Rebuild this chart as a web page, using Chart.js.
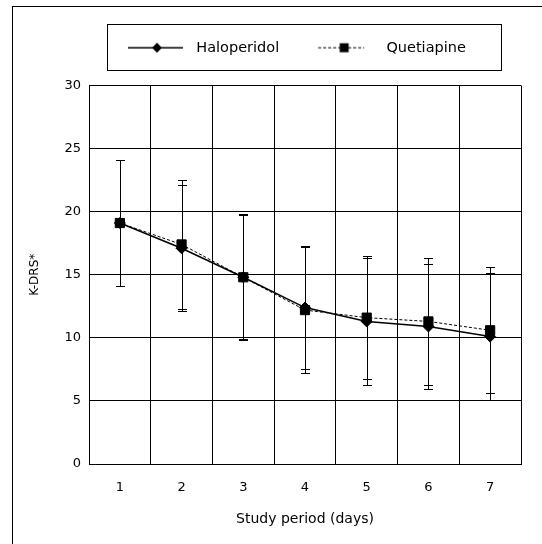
<!DOCTYPE html>
<html>
<head>
<meta charset="utf-8">
<script src="https://cdn.jsdelivr.net/npm/chart.js@4"></script>
<style>
  html, body { margin: 0; padding: 0; background: #fff; }
  #wrap { width: 542px; height: 544px; position: relative; }
</style>
</head>
<body>
<div id="wrap"><canvas id="kdrsChart"></canvas></div>
<script>
// K-DRS mean (± SD) over the study period
const days = ['1', '2', '3', '4', '5', '6', '7'];
const haloMean = [19.1, 17.1, 14.8, 12.4, 11.3, 10.9, 10.1];
const haloSD = [5.0, 5.0, 4.9, 4.9, 5.0, 4.95, 5.0];
const quetMean = [19.1, 17.4, 14.8, 12.2, 11.6, 11.3, 10.6];
const quetSD = [5.0, 5.1, 5.0, 5.0, 4.9, 5.0, 5.0];
const yTicks = [0, 5, 10, 15, 20, 25, 30];

const FONT = 'DejaVu Sans';
const INK = '#000';

// small line+marker picture used as the legend symbol
function legendSample(dashed, marker) {
    const c = document.createElement('canvas');
    c.width = 63;
    c.height = 14;
    const g = c.getContext('2d');
    const lineEnd = dashed ? 48 : 57;
    const mx = dashed ? 28 : 31;
    g.strokeStyle = INK;
    g.fillStyle = INK;
    g.lineWidth = dashed ? 1 : 1.5;
    if (dashed) g.setLineDash([3, 2]);
    g.beginPath();
    g.moveTo(2, 7);
    g.lineTo(lineEnd, 7);
    g.stroke();
    g.setLineDash([]);
    g.beginPath();
    if (marker === 'diamond') {
        g.moveTo(mx, 2); g.lineTo(mx + 5, 7); g.lineTo(mx, 12); g.lineTo(mx - 5, 7);
        g.closePath();
    } else {
        g.rect(mx - 4.5, 2.5, 9, 9);
    }
    g.fill();
    return c;
}
const samples = [legendSample(false, 'diamond'), legendSample(true, 'square')];

const errorSets = [haloSD, quetSD];

// error bars drawn from the y scale
const errorBars = {
    id: 'errorBars',
    beforeDatasetsDraw(chart) {
        const { ctx, scales: { y } } = chart;
        ctx.save();
        ctx.strokeStyle = INK;
        ctx.lineWidth = 1;
        chart.data.datasets.forEach((ds, di) => {
            const meta = chart.getDatasetMeta(di);
            const sd = errorSets[di];
            meta.data.forEach((pt, i) => {
                const x = Math.round(pt.x) + 0.5;
                const top = Math.round(y.getPixelForValue(ds.data[i] + sd[i])) + 0.5;
                const bot = Math.round(y.getPixelForValue(ds.data[i] - sd[i])) + 0.5;
                ctx.beginPath();
                ctx.moveTo(x, top); ctx.lineTo(x, bot);
                ctx.moveTo(x - 4.5, top); ctx.lineTo(x + 4.5, top);
                ctx.moveTo(x - 4.5, bot); ctx.lineTo(x + 4.5, bot);
                ctx.stroke();
            });
        });
        ctx.restore();
    }
};

// extra room under the legend, frame round legend and figure
const frames = {
    id: 'frames',
    beforeLayout(chart) {
        const lg = chart.legend;
        if (lg && !lg._padded) {
            const fit = lg.fit;
            lg.fit = function () {
                fit.call(this);
                this.height += 20.5;
            };
            lg._padded = true;
        }
    },
    afterDraw(chart) {
        const { ctx } = chart;
        const hb = chart.legend.legendHitBoxes;
        ctx.save();
        ctx.strokeStyle = INK;
        ctx.lineWidth = 1;
        ctx.strokeRect(12.5, 6.5, 560, 560);
        if (hb && hb.length) {
            const left = Math.round(hb[0].left - 19) + 0.5;
            const top = Math.round(hb[0].top - 16.5) + 0.5;
            ctx.strokeRect(left, top, 394, 46);
        }
        ctx.restore();
    }
};

new Chart(document.getElementById('kdrsChart'), {
    type: 'line',
    data: {
        labels: days,
        datasets: [
            {
                label: 'Haloperidol',
                data: haloMean,
                borderColor: INK,
                borderWidth: 1.5,
                backgroundColor: INK,
                pointStyle: 'rectRot',
                pointRadius: 5.5,
                pointBorderWidth: 1,
                pointBackgroundColor: INK,
                pointBorderColor: INK,
                tension: 0,
                order: 1
            },
            {
                label: 'Quetiapine',
                data: quetMean,
                borderColor: INK,
                borderWidth: 1,
                borderDash: [3, 2],
                backgroundColor: INK,
                pointStyle: 'rect',
                pointRadius: 6.5,
                pointBorderWidth: 1,
                pointBackgroundColor: INK,
                pointBorderColor: INK,
                tension: 0,
                order: 0
            }
        ]
    },
    options: {
        responsive: true,
        maintainAspectRatio: false,
        animation: false,
        layout: { padding: { left: 24, right: 21, top: 3.5, bottom: 10 } },
        plugins: {
            tooltip: { enabled: false },
            legend: {
                position: 'top',
                align: 'start',
                fullSize: false,
                labels: {
                    usePointStyle: true,
                    pointStyleWidth: 63,
                    padding: 37,
                    color: INK,
                    font: { family: FONT, size: 14.5 },
                    generateLabels: chart => chart.data.datasets.map((ds, i) => ({
                        text: ds.label,
                        pointStyle: samples[i],
                        fillStyle: 'transparent',
                        strokeStyle: 'transparent',
                        lineWidth: 0,
                        fontColor: INK,
                        hidden: false,
                        datasetIndex: i
                    }))
                }
            }
        },
        scales: {
            x: {
                offset: true,
                afterFit(scale) { scale.height = 70; },
                grid: { offset: true, color: INK, lineWidth: 1, drawTicks: false },
                border: { color: INK, width: 1 },
                ticks: { color: INK, padding: 16, font: { family: FONT, size: 13 } },
                title: {
                    display: true,
                    text: 'Study period (days)',
                    color: INK,
                    font: { family: FONT, size: 14 },
                    padding: { top: 0, bottom: 6 }
                }
            },
            y: {
                min: yTicks[0],
                max: yTicks[yTicks.length - 1],
                afterFit(scale) { scale.width = 65; },
                grid: { color: INK, lineWidth: 1, drawTicks: false },
                border: { color: INK, width: 1 },
                ticks: { stepSize: yTicks[1] - yTicks[0], color: INK, padding: 8, font: { family: FONT, size: 13 } },
                title: {
                    display: true,
                    text: 'K-DRS*',
                    color: INK,
                    font: { family: FONT, size: 12 },
                    padding: { top: 4, bottom: 0 }
                }
            }
        }
    },
    plugins: [errorBars, frames]
});
</script>
</body>
</html>
